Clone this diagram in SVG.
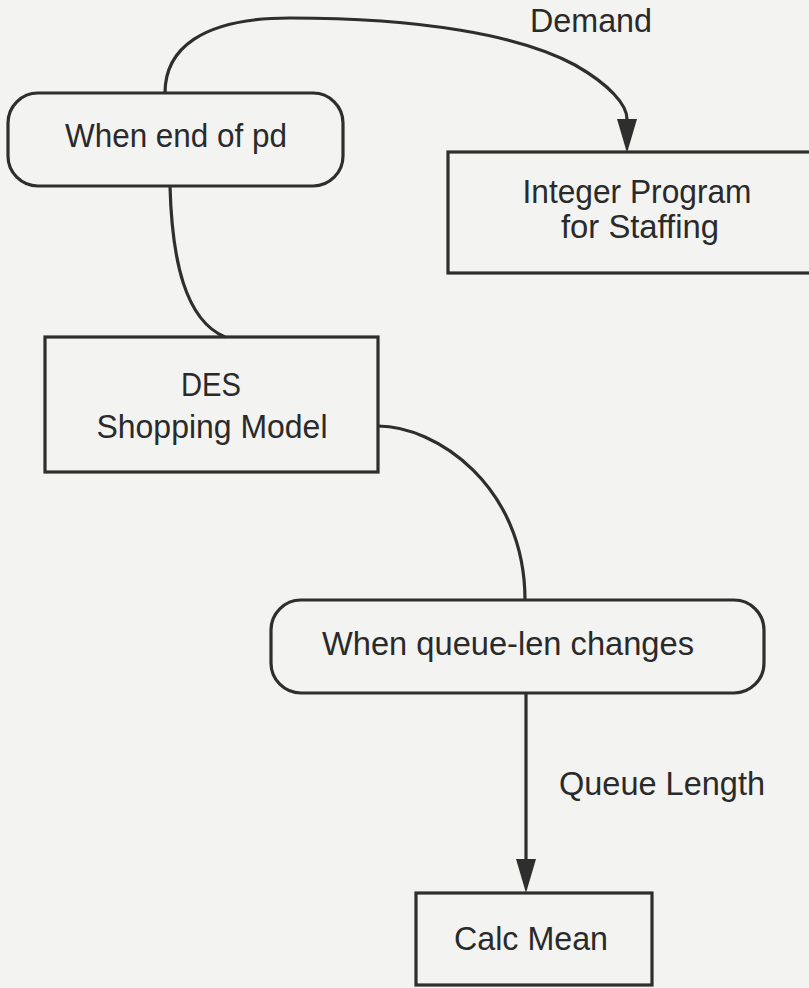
<svg xmlns="http://www.w3.org/2000/svg" width="809" height="988" viewBox="0 0 809 988">
  <style>
    .shape { fill: none; stroke: #2e2e2e; stroke-width: 3.2; }
    .conn { fill: none; stroke: #2e2e2e; stroke-width: 3.2; }
    .label { font-family: "Liberation Sans", Arial, Helvetica, sans-serif; font-size: 33px; fill: #2a2a2a; }
    .mid { text-anchor: middle; }
  </style>
  <defs>
    <marker id="arrow" markerUnits="userSpaceOnUse" markerWidth="34" markerHeight="20" refX="0" refY="10" orient="auto">
      <path d="M0,0 L34,10 L0,20 Z" fill="#2e2e2e"/>
    </marker>
  </defs>
  <rect x="0" y="0" width="809" height="988" fill="#f3f3f1"/>

  <g id="connectors">
    <path class="conn" d="M165,93 C165,50 200,18 290,18 C420,18 520,35 575,65 C610,85 627,105 627,119" marker-end="url(#arrow)"/>
    <path class="conn" d="M170,186 C172,260 185,320 225,337"/>
    <path class="conn" d="M378,426 C435,426 525,485 525,600"/>
    <path class="conn" d="M526,693 L526,859" marker-end="url(#arrow)"/>
    <text class="label" x="530" y="32" textLength="122" lengthAdjust="spacingAndGlyphs">Demand</text>
    <text class="label" x="559" y="795" textLength="206" lengthAdjust="spacingAndGlyphs">Queue Length</text>
  </g>

  <g id="when-end-of-pd">
    <rect class="shape" x="8" y="93" width="335" height="93" rx="30" ry="30"/>
    <text class="label mid" x="176" y="147" textLength="222" lengthAdjust="spacingAndGlyphs">When end of pd</text>
  </g>

  <g id="integer-program">
    <rect class="shape" x="448" y="152" width="384" height="121"/>
    <text class="label mid" x="637" y="203" textLength="229" lengthAdjust="spacingAndGlyphs">Integer Program</text>
    <text class="label mid" x="640" y="238" textLength="158" lengthAdjust="spacingAndGlyphs">for Staffing</text>
  </g>

  <g id="des-shopping-model">
    <rect class="shape" x="45" y="337" width="333" height="135"/>
    <text class="label mid" x="211" y="396" textLength="60" lengthAdjust="spacingAndGlyphs">DES</text>
    <text class="label mid" x="212" y="438" textLength="231" lengthAdjust="spacingAndGlyphs">Shopping Model</text>
  </g>

  <g id="when-queue-len-changes">
    <rect class="shape" x="271" y="600" width="493" height="93" rx="30" ry="30"/>
    <text class="label mid" x="508" y="655" textLength="372" lengthAdjust="spacingAndGlyphs">When queue-len changes</text>
  </g>

  <g id="calc-mean">
    <rect class="shape" x="416" y="893" width="236" height="92"/>
    <text class="label mid" x="531" y="950" textLength="154" lengthAdjust="spacingAndGlyphs">Calc Mean</text>
  </g>
</svg>
